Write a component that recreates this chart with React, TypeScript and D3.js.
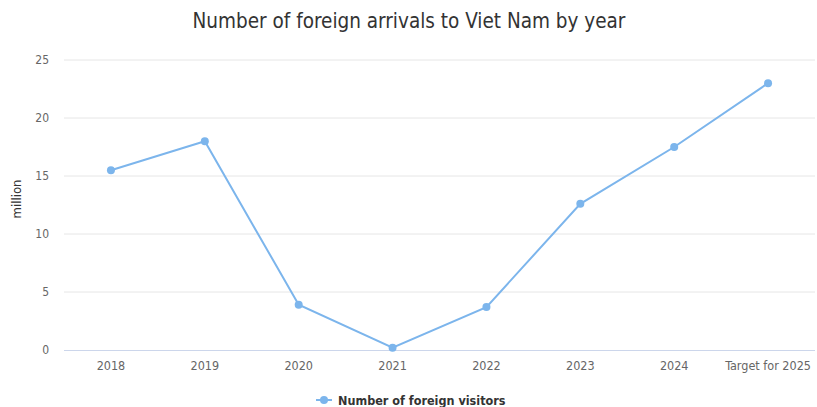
import React from "react";
import * as d3 from "d3";

const categories = ["2018", "2019", "2020", "2021", "2022", "2023", "2024", "Target for 2025"];
const visitors = [15.5, 18.0, 3.9, 0.2, 3.7, 12.6, 17.5, 23.0];
const yTicks = [0, 5, 10, 15, 20, 25];
const seriesName = "Number of foreign visitors";
const titleText = "Number of foreign arrivals to Viet Nam by year";
const yTitle = "million";

const W = 817, H = 407;
const FONT = "'Liberation Sans Narrow', 'DejaVu Sans Condensed', 'Open Sans', sans-serif";

export default function App() {
  const x = d3.scaleBand().domain(categories).range([64, 815]);
  const y = d3.scaleLinear().domain([0, 25]).range([350, 60]);
  const cx = (c: string) => (x(c) as number) + x.bandwidth() / 2;
  const line = d3.line<number>().x((_, i) => cx(categories[i])).y((d) => y(d));
  const color = "#7cb5ec";
  return (
    <svg width={W} height={H} style={{ position: "absolute", left: 0, top: 0, fontFamily: FONT }}>
      <rect width={W} height={H} fill="#fff" />
      <text x={409} y={28} textAnchor="middle" fontSize={20.5} fill="#333">{titleText}</text>
      {yTicks.map((t) => (
        <g key={t}>
          {t !== 0 && <line x1={64} x2={815} y1={y(t)} y2={y(t)} stroke="#e6e6e6" />}
          <text x={49} y={y(t) + 4} textAnchor="end" fontSize={12} fill="#666">{t}</text>
        </g>
      ))}
      <line x1={64} x2={815} y1={y(0) + 0.5} y2={y(0) + 0.5} stroke="#ccd6eb" />
      <text transform={`translate(21,199) rotate(-90)`} textAnchor="middle" fontSize={13} fill="#333">{yTitle}</text>
      {categories.map((c) => (
        <text key={c} x={cx(c)} y={370} textAnchor="middle" fontSize={12.5} fill="#666">{c}</text>
      ))}
      <path d={line(visitors) || ""} fill="none" stroke={color} strokeWidth={2} />
      {visitors.map((v, i) => (
        <circle key={i} cx={cx(categories[i])} cy={y(v)} r={4} fill={color} />
      ))}
      <g>
        <line x1={316} x2={332} y1={400} y2={400} stroke={color} strokeWidth={2} />
        <circle cx={324} cy={400} r={4} fill={color} />
        <text x={338} y={405} fontSize={12.5} fontWeight="bold" fill="#333">{seriesName}</text>
      </g>
    </svg>
  );
}
